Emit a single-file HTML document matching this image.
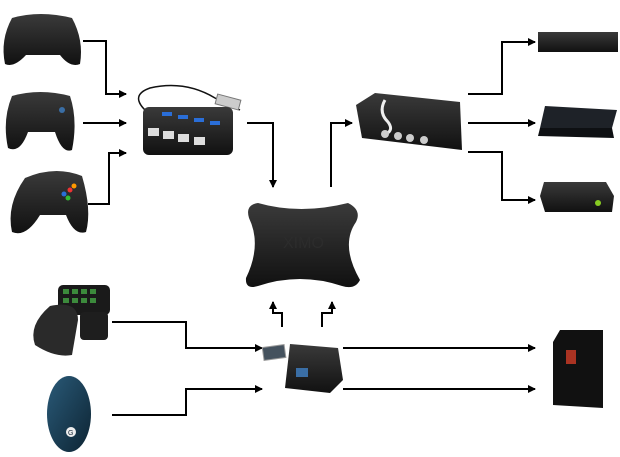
<!DOCTYPE html>
<html><head><meta charset="utf-8"><style>
html,body{margin:0;padding:0;background:#fff;}
svg{display:block;}
</style></head><body>
<svg width="620" height="457" viewBox="0 0 620 457" xmlns="http://www.w3.org/2000/svg">
<defs>
<marker id="a" markerWidth="8" markerHeight="8" refX="7" refY="4" orient="auto" markerUnits="userSpaceOnUse">
<path d="M0,0 L8,4 L0,8 z" fill="#000"/></marker>
<linearGradient id="dk" x1="0" y1="0" x2="0" y2="1"><stop offset="0" stop-color="#3a3a3a"/><stop offset="1" stop-color="#111"/></linearGradient>
<linearGradient id="ms" x1="0" y1="0" x2="1" y2="1"><stop offset="0" stop-color="#2a5a78"/><stop offset="1" stop-color="#0d2433"/></linearGradient>
</defs>
<g fill="none" stroke="#000" stroke-width="2">
<polyline points="83,41 106,41 106,94 126,94" marker-end="url(#a)"/>
<polyline points="83,123 126,123" marker-end="url(#a)"/>
<polyline points="88,204 109,204 109,153 126,153" marker-end="url(#a)"/>
<polyline points="247,123 273,123 273,187" marker-end="url(#a)"/>
<polyline points="331,187 331,123 352,123" marker-end="url(#a)"/>
<polyline points="468,94 502,94 502,42 535,42" marker-end="url(#a)"/>
<polyline points="468,123 535,123" marker-end="url(#a)"/>
<polyline points="468,152 502,152 502,200 535,200" marker-end="url(#a)"/>
<polyline points="282,327 282,313 273,313 273,302" marker-end="url(#a)"/>
<polyline points="322,327 322,313 332,313 332,302" marker-end="url(#a)"/>
<polyline points="112,322 186,322 186,348 262,348" marker-end="url(#a)"/>
<polyline points="112,415 186,415 186,389 262,389" marker-end="url(#a)"/>
<polyline points="343,348 535,348" marker-end="url(#a)"/>
<polyline points="343,389 535,389" marker-end="url(#a)"/>
</g>
<!-- xbox one controller -->
<path d="M12,18 Q40,10 72,18 Q84,40 80,64 Q70,68 60,55 L26,55 Q14,68 5,64 Q0,40 12,18z" fill="url(#dk)"/>
<!-- ps4 controller -->
<path d="M12,96 Q40,88 70,96 Q78,120 72,150 Q62,154 55,132 L28,132 Q20,154 8,148 Q2,120 12,96z" fill="url(#dk)"/>
<circle cx="62" cy="110" r="3" fill="#3a6ea5"/>
<!-- xbox 360 controller -->
<path d="M25,178 Q55,165 82,176 Q92,210 86,232 Q74,236 66,215 L40,215 Q26,238 12,232 Q6,205 25,178z" fill="url(#dk)"/>
<circle cx="70" cy="190" r="2.5" fill="#e33"/><circle cx="64" cy="194" r="2.5" fill="#2a6ed8"/><circle cx="74" cy="186" r="2.5" fill="#f90"/><circle cx="68" cy="198" r="2.5" fill="#3b3"/>
<!-- hub -->
<path d="M145,110 Q130,95 150,88 Q185,80 215,98 L240,110" fill="none" stroke="#111" stroke-width="1.5"/>
<rect x="216" y="97" width="24" height="10" fill="#ccc" stroke="#777" transform="rotate(15 228 102)"/>
<rect x="143" y="107" width="90" height="48" rx="6" fill="url(#dk)"/>
<rect x="148" y="128" width="11" height="8" fill="#ddd"/><rect x="163" y="131" width="11" height="8" fill="#ddd"/><rect x="178" y="134" width="11" height="8" fill="#ddd"/><rect x="194" y="137" width="11" height="8" fill="#ddd"/>
<rect x="162" y="112" width="10" height="4" fill="#2a6ed8"/><rect x="178" y="115" width="10" height="4" fill="#2a6ed8"/><rect x="194" y="118" width="10" height="4" fill="#2a6ed8"/><rect x="210" y="121" width="10" height="4" fill="#2a6ed8"/>
<!-- ximo -->
<path d="M258,203 Q300,215 348,203 Q362,210 356,222 Q340,245 360,280 Q355,290 342,286 Q300,272 258,286 Q245,290 246,278 Q262,245 249,218 Q245,205 258,203z" fill="url(#dk)"/>
<text x="283" y="248" font-family="Liberation Sans,sans-serif" font-size="16" fill="#2c2c2c">XIMO</text>
<!-- switch -->
<path d="M375,93 L460,102 L462,150 L362,138 L356,105z" fill="url(#dk)"/>
<path d="M385,100 Q378,112 388,122 Q394,130 386,134" stroke="#eee" stroke-width="3" fill="none"/>
<circle cx="385" cy="134" r="4" fill="#ccc"/><circle cx="398" cy="136" r="4" fill="#ccc"/><circle cx="410" cy="138" r="4" fill="#ccc"/><circle cx="424" cy="140" r="4" fill="#ccc"/>
<!-- xbox one console -->
<rect x="538" y="32" width="80" height="20" fill="url(#dk)"/>
<!-- ps4 -->
<path d="M545,106 L617,110 L612,128 L540,128z" fill="#1e2228"/><path d="M540,128 L612,128 L614,138 L538,136z" fill="#0e1013"/>
<!-- xbox360 -->
<path d="M544,182 L606,182 L614,196 L612,212 L545,212 L540,196z" fill="url(#dk)"/>
<circle cx="598" cy="203" r="3" fill="#8c2"/>
<!-- keypad -->
<rect x="58" y="285" width="52" height="30" rx="5" fill="#1a1a1a"/>
<g fill="#3c8a3c"><rect x="63" y="289" width="6" height="5"/><rect x="72" y="289" width="6" height="5"/><rect x="81" y="289" width="6" height="5"/><rect x="90" y="289" width="6" height="5"/><rect x="63" y="298" width="6" height="5"/><rect x="72" y="298" width="6" height="5"/><rect x="81" y="298" width="6" height="5"/><rect x="90" y="298" width="6" height="5"/></g>
<path d="M50,306 Q78,300 78,320 L72,355 Q55,358 35,345 Q28,325 50,306z" fill="#2a2a2a"/>
<rect x="80" y="312" width="28" height="28" rx="4" fill="#1e1e1e"/>
<!-- mouse -->
<ellipse cx="69" cy="414" rx="22" ry="38" fill="url(#ms)"/>
<circle cx="71" cy="432" r="5" fill="#eee"/><text x="68" y="435" font-family="Liberation Sans,sans-serif" font-size="7" fill="#123">G</text>
<!-- kvm -->
<rect x="263" y="346" width="22" height="13" fill="#45525e" stroke="#999" transform="rotate(-8 274 352)"/>
<path d="M290,344 L338,348 L343,380 L330,393 L285,388 Z" fill="url(#dk)"/>
<rect x="296" y="368" width="12" height="9" fill="#3a6ea5"/>
<!-- pc -->
<path d="M560,330 L603,330 L603,408 L553,405 L553,342z" fill="#111"/>
<rect x="566" y="350" width="10" height="14" fill="#a32"/>
</svg>
</body></html>
